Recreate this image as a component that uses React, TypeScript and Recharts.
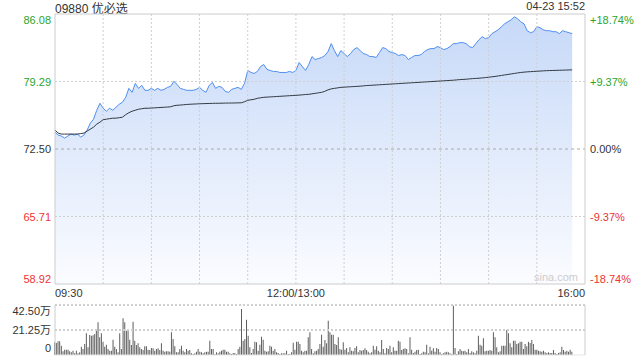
import React from 'react';
import {
  ComposedChart,
  BarChart,
  Area,
  Line,
  Bar,
  XAxis,
  YAxis,
  ReferenceLine,
} from 'recharts';

// price every 2 minutes from 09:30 (lunch break skipped), last point 15:52
const prices = [
  74.2, 73.9, 73.8, 73.6, 73.8, 74.0, 73.9, 74.0, 73.7, 73.9,
  74.4, 75.1, 75.5, 76.4, 77.1, 76.6, 76.3, 76.6, 76.4, 76.7,
  77.0, 77.2, 77.7, 78.6, 78.2, 79.1, 78.6, 78.9, 78.4, 78.4,
  78.6, 78.4, 78.6, 78.4, 78.5, 78.7, 78.8, 79.3, 79.0, 78.6,
  78.5, 78.4, 78.4, 78.4, 78.5, 78.7, 78.4, 78.2, 78.9, 79.2,
  78.6, 78.8, 78.7, 78.3, 78.2, 78.5, 78.6, 78.7, 78.5, 79.1,
  80.4, 80.2, 80.1, 80.3, 80.8, 81.0, 80.5, 80.4, 80.3, 80.3,
  80.2, 80.2, 80.2, 80.3, 80.2, 80.4, 81.2, 80.8, 80.4, 81.0,
  81.8, 81.5, 81.6, 81.7, 81.9, 82.3, 83.1, 82.4, 81.8, 82.4,
  82.1, 81.8, 82.1, 82.5, 82.7, 82.4, 82.1, 82.0, 81.8, 81.8,
  81.7, 82.2, 82.7, 82.6, 82.3, 82.2, 82.1, 81.9, 82.0, 81.9,
  81.5, 81.7, 81.9, 81.9, 82.0, 82.3, 82.5, 82.6, 82.6, 82.8,
  82.7, 82.5, 82.6, 82.8, 83.1, 83.1, 83.2, 83.2, 83.1, 82.8,
  82.7, 83.1, 83.5, 83.8, 83.6, 83.7, 84.1, 84.3, 84.5, 84.8,
  85.1, 85.3, 85.5, 85.8, 85.6, 85.3, 85.1, 84.4, 84.2, 84.3,
  84.8, 84.7, 84.5, 84.4, 84.4, 84.3, 84.3, 84.1, 84.4, 84.3,
  84.2, 84.1,
];

// average price line, same sampling
const avgPrices = [
  74.4, 74.1, 74.0, 74.0, 74.0, 74.0, 74.0, 74.0, 74.05, 74.1,
  74.3, 74.5, 74.7, 75.0, 75.2, 75.45, 75.5, 75.55, 75.6, 75.6,
  75.65, 75.7, 75.95, 76.15, 76.3, 76.4, 76.5, 76.55, 76.6, 76.6,
  76.62, 76.64, 76.66, 76.68, 76.7, 76.72, 76.75, 76.85, 76.9, 76.92,
  76.95, 76.98, 77.0, 77.02, 77.03, 77.05, 77.06, 77.07, 77.08, 77.09,
  77.1, 77.1, 77.11, 77.12, 77.12, 77.13, 77.13, 77.14, 77.15, 77.25,
  77.4, 77.45, 77.5, 77.6, 77.65, 77.7, 77.72, 77.74, 77.76, 77.78,
  77.8, 77.82, 77.84, 77.86, 77.88, 77.9, 77.92, 77.95, 77.98, 78.0,
  78.05, 78.1, 78.15, 78.2, 78.3, 78.45, 78.55, 78.6, 78.65, 78.7,
  78.72, 78.74, 78.76, 78.78, 78.8, 78.82, 78.85, 78.88, 78.9, 78.92,
  78.94, 78.96, 78.98, 79.0, 79.02, 79.04, 79.06, 79.08, 79.1, 79.12,
  79.14, 79.16, 79.18, 79.2, 79.22, 79.24, 79.26, 79.28, 79.3, 79.32,
  79.34, 79.36, 79.38, 79.4, 79.42, 79.45, 79.48, 79.5, 79.52, 79.55,
  79.58, 79.6, 79.62, 79.65, 79.68, 79.72, 79.76, 79.8, 79.85, 79.9,
  79.95, 80.0, 80.05, 80.1, 80.15, 80.2, 80.23, 80.26, 80.28, 80.3,
  80.32, 80.34, 80.36, 80.38, 80.39, 80.4, 80.41, 80.42, 80.43, 80.44,
  80.45, 80.46,
];

// volume per bar, in 万 shares
const volumes = [
  10.8, 10.2, 11.6, 11.6, 7.9, 3.1, 4.5, 4.5, 4.5, 3.1,
  2.3, 3.7, 1.4, 3.7, 1.4, 2.3, 7.1, 5.1, 9.3, 18.4,
  6.5, 17.0, 16.4, 16.7, 17.8, 22.1, 27.8, 15.0, 18.4, 11.3,
  7.1, 8.8, 5.1, 3.7, 3.7, 13.0, 7.1, 5.1, 2.3, 18.4,
  5.1, 31.2, 27.8, 20.7, 21.2, 13.0, 8.5, 28.3, 12.2, 8.5,
  9.9, 6.5, 5.1, 4.2, 7.4, 7.4, 4.5, 4.2, 5.9, 5.7,
  3.7, 5.1, 5.7, 4.2, 9.9, 3.7, 2.8, 3.1, 3.1, 2.8,
  19.3, 13.6, 7.4, 2.3, 2.3, 5.1, 7.9, 3.7, 2.3, 5.1,
  3.7, 4.2, 1.4, 0.8, 1.4, 2.8, 5.1, 2.8, 2.3, 1.4,
  2.3, 2.8, 2.8, 12.2, 5.1, 5.1, 0.8, 2.3, 1.4, 2.8,
  3.7, 4.5, 4.5, 2.8,
  2.8, 1.4, 0.8, 1.7, 1.7, 0.8, 5.1, 7.1, 39.1, 12.2,
  13.6, 30.0, 16.4, 6.5, 1.7, 5.1, 11.3, 10.8, 3.7, 8.8,
  15.6, 13.0, 3.7, 2.8, 3.1, 7.9, 7.1, 3.7, 5.1, 2.3,
  1.7, 0.8, 1.4, 1.4, 1.4, 3.7, 0.8, 0.8, 2.3, 10.5,
  4.5, 11.3, 11.3, 9.3, 3.7, 2.3, 3.7, 3.7, 15.0, 19.3,
  5.1, 1.4, 3.1, 3.7, 5.1, 9.3, 17.3, 7.1, 12.7, 9.9,
  29.2, 19.3, 17.3, 17.3, 9.3, 8.5, 15.0, 5.1, 4.5, 10.8,
  4.5, 5.9, 2.3, 6.5, 3.7, 3.1, 5.9, 7.4, 2.3, 4.2,
  3.7, 4.2, 5.7, 4.2, 2.8, 1.4, 2.3, 7.9, 4.5, 7.4,
  3.7, 2.3, 12.7, 5.1, 1.4, 5.9, 5.1, 7.9, 2.3, 6.5,
  3.7, 3.7, 12.2, 11.3, 4.2, 5.1, 5.7,
  5.1, 1.4, 15.0, 4.5, 1.7, 2.8, 4.2, 4.5, 0.8, 1.4,
  2.8, 2.3, 8.8, 1.4, 7.1, 3.7, 5.7, 2.8, 5.9, 5.1,
  2.3, 0.8, 1.4, 2.3, 2.8, 2.3, 1.4, 0.8, 41.9, 5.9,
  0.8, 3.1, 5.1, 3.7, 3.1, 3.7, 2.3, 5.1, 1.7, 3.1,
  2.3, 1.4, 3.7, 16.4, 8.8, 7.9, 14.2, 3.1, 3.7, 3.7,
  4.2, 3.7, 19.3, 15.0, 6.5, 2.3, 3.1, 7.9, 7.9, 7.9,
  21.2, 18.4, 9.9, 6.5, 12.2, 12.2, 9.3, 9.9, 11.3, 11.3,
  5.1, 9.3, 7.4, 11.3, 10.2, 12.7, 9.3, 4.5, 4.5, 3.7,
  3.1, 2.8, 3.7, 2.3, 1.7, 2.3, 1.7, 1.7, 4.2, 1.7,
  0.8, 1.7, 2.3, 7.1, 4.2, 2.8, 3.7, 2.8, 4.5, 2.8,
];

const priceTicks = [58.92, 65.71, 72.5, 79.29, 86.08];
const pctLabels = ['-18.74%', '-9.37%', '0.00%', '+9.37%', '+18.74%'];
const volTicks = [0, 21.25, 42.5];
const volLabels = ['0', '21.25万', '42.50万'];
const gridMinutes = [30, 60, 90, 120, 150, 180, 210, 240, 270, 300];
const timeTicks = [0, 150, 330];
const timeLabels = ['09:30', '12:00/13:00', '16:00'];

const PREV_CLOSE = 72.5;
const GREEN = '#2ba52b';
const RED = '#ee3333';
const FONT = 'Arial, "Liberation Sans", "Noto Sans CJK SC", sans-serif';

const mainData = prices.map((p, i) => ({ t: i * 2, price: p, avg: avgPrices[i] }));
const volData = volumes.map((v, i) => ({ t: i, vol: v }));
// last bar sits at 15:52 (minute 322 of 330)
const volMax = ((volumes.length - 1) * 330) / 322;

const colorFor = (v: number) =>
  Math.abs(v - PREV_CLOSE) < 0.01 ? '#333' : v > PREV_CLOSE ? GREEN : RED;

const tickShift = (i: number, n: number) => (i === n - 1 ? 10 : i === 0 ? -1 : 4);

const PriceTick = ({ x, y, payload, index }: any) => (
  <text x={x} y={y} dy={tickShift(index, priceTicks.length)} textAnchor="end" fontSize={11} fill={colorFor(payload.value)}>
    {payload.value.toFixed(2)}
  </text>
);

const PctTick = ({ x, y, payload, index }: any) => (
  <text x={x} y={y} dy={tickShift(index, priceTicks.length)} textAnchor="start" fontSize={11} fill={colorFor(payload.value)}>
    {pctLabels[index]}
  </text>
);

const TimeTick = ({ x, y, index }: any) => (
  <text x={x} y={y} dy={9} textAnchor={index === 0 ? 'start' : index === 2 ? 'end' : 'middle'} fontSize={11} fill="#333">
    {timeLabels[index]}
  </text>
);

const VolTick = ({ x, y, index }: any) => (
  <text x={x} y={y} dy={index === 2 ? 10 : index === 0 ? -3 : 4} textAnchor="end" fontSize={11} fill="#333">
    {volLabels[index]}
  </text>
);

const border = '#cccccc';

export default function App() {
  return (
    <div style={{ position: 'absolute', left: 0, top: 0, width: 640, height: 360, background: '#fff', fontFamily: FONT }}>
      <div style={{ position: 'absolute', left: 55, top: -1, fontSize: 12, color: '#333' }}>09880 优必选</div>
      <div style={{ position: 'absolute', right: 55, top: 0, fontSize: 11, color: '#333' }}>04-23 15:52</div>

      <div style={{ position: 'absolute', left: 0, top: 0 }}>
        <ComposedChart width={640} height={300} data={mainData} margin={{ top: 14, right: 0, bottom: 0, left: 0 }}>
          <defs>
            <linearGradient id="priceFill" x1="0" y1="0" x2="0" y2="1">
              <stop offset="0%" stopColor="#c6d9f8" stopOpacity={1} />
              <stop offset="100%" stopColor="#fbfcff" stopOpacity={1} />
            </linearGradient>
          </defs>
          <XAxis
            dataKey="t"
            type="number"
            domain={[0, 330]}
            ticks={timeTicks}
            tick={<TimeTick />}
            axisLine={false}
            tickLine={false}
            tickSize={0}
            tickMargin={4}
            height={16}
            interval={0}
          />
          <YAxis
            yAxisId="price"
            domain={[58.92, 86.08]}
            ticks={priceTicks}
            tick={<PriceTick />}
            axisLine={false}
            tickLine={false}
            tickSize={0}
            tickMargin={4}
            width={55}
            interval={0}
          />
          <YAxis
            yAxisId="pct"
            orientation="right"
            domain={[58.92, 86.08]}
            ticks={priceTicks}
            tick={<PctTick />}
            axisLine={false}
            tickLine={false}
            tickSize={0}
            tickMargin={5}
            width={55}
            interval={0}
          />
          <Area
            yAxisId="price"
            type="linear"
            dataKey="price"
            stroke="#4f8ef2"
            strokeWidth={1}
            fill="url(#priceFill)"
            fillOpacity={1}
            dot={false}
            activeDot={false}
            isAnimationActive={false}
          />
          {gridMinutes.map((m) => (
            <ReferenceLine key={m} yAxisId="price" x={m} stroke="#cfcfcf" strokeDasharray="2 2" />
          ))}
          <ReferenceLine yAxisId="price" y={79.29} stroke="#cfcfcf" strokeDasharray="2 2" />
          <ReferenceLine yAxisId="price" y={65.71} stroke="#cfcfcf" strokeDasharray="2 2" />
          <ReferenceLine yAxisId="price" y={72.5} stroke="#aaaaaa" strokeDasharray="3 3" />
          <Line
            yAxisId="pct"
            type="linear"
            dataKey="avg"
            stroke="#333a44"
            strokeWidth={1}
            dot={false}
            activeDot={false}
            isAnimationActive={false}
          />
          <ReferenceLine yAxisId="price" x={0} stroke={border} />
          <ReferenceLine yAxisId="price" x={330} stroke={border} />
          <ReferenceLine yAxisId="price" y={86.08} stroke={border} />
          <ReferenceLine yAxisId="price" y={58.92} stroke={border} />
        </ComposedChart>
      </div>

      <div style={{ position: 'absolute', left: 0, top: 300 }}>
        <BarChart width={640} height={60} data={volData} margin={{ top: 5, right: 55, bottom: 5, left: 0 }}>
          <XAxis dataKey="t" type="number" domain={[0, volMax]} hide />
          <YAxis
            domain={[0, 42.5]}
            ticks={volTicks}
            tick={<VolTick />}
            axisLine={false}
            tickLine={false}
            tickSize={0}
            tickMargin={4}
            width={55}
            interval={0}
          />
          <ReferenceLine y={42.5} stroke="#cfcfcf" strokeWidth={2} strokeDasharray="2 2" />
          <ReferenceLine y={21.25} stroke="#cfcfcf" strokeWidth={2} strokeDasharray="2 2" />
          <Bar dataKey="vol" fill="#5e5e5e" barSize={1} isAnimationActive={false} />
          <ReferenceLine x={0} stroke={border} />
          <ReferenceLine x={volMax} stroke={border} />
          <ReferenceLine y={0} stroke="#e6e6e6" />
        </BarChart>
      </div>

      <div style={{ position: 'absolute', left: 534, top: 271, fontSize: 11, color: '#cdcdcd' }}>sina.com</div>
    </div>
  );
}
